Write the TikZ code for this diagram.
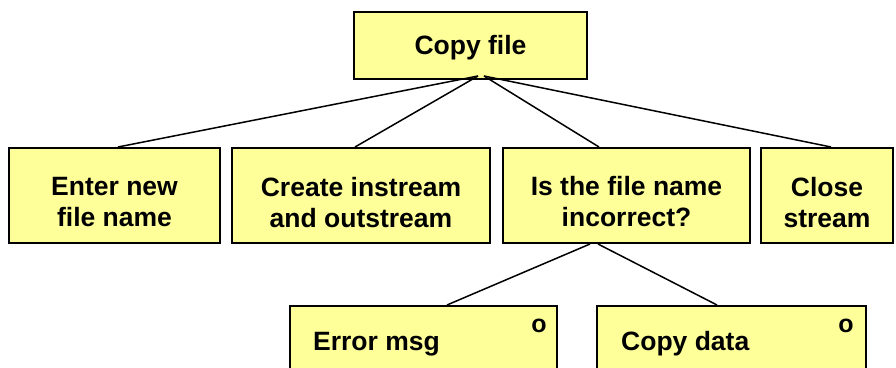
\documentclass[tikz,border=0pt]{standalone}
\usepackage{fontspec}
\setmainfont{Liberation Sans}
\definecolor{boxfill}{HTML}{FFFF99}
\begin{document}
\begin{tikzpicture}[x=1pt,y=-1pt,
  box/.style={draw=black, line width=2pt, fill=boxfill, inner sep=0pt},
  lbl/.style={font=\bfseries\fontsize{26.5}{31}\selectfont, align=center, inner sep=0pt},
  mark0/.style={font=\bfseries\fontsize{25}{28}\selectfont, inner sep=0pt},
  link/.style={draw=black, line width=1.5pt}]
\useasboundingbox (0,0) rectangle (896,367);
\clip (0,0) rectangle (896,367);
% boxes
\node[box, minimum width=233pt, minimum height=67pt] (copy) at (470.5,45.5) {};
\node[box, minimum width=211pt, minimum height=95pt] (enter) at (114.5,195.5) {};
\node[box, minimum width=258pt, minimum height=95pt] (create) at (361,195.5) {};
\node[box, minimum width=247pt, minimum height=95pt] (isfile) at (626.5,195.5) {};
\node[box, minimum width=132pt, minimum height=95pt] (close) at (827,195.5) {};
\node[box, minimum width=267pt, minimum height=100pt] (error) at (423.5,356) {};
\node[box, minimum width=269pt, minimum height=100pt] (copydata) at (731.5,356) {};
% texts
\node[lbl] (tcopy) at (470.5,47.5) {Copy file};
\node[lbl] (tenter) at (114.5,202.5) {Enter new\\file name};
\node[lbl] (tcreate) at (361,202.5) {Create instream\\and outstream};
\node[lbl] (tisfile) at (626.5,202) {Is the file name\\incorrect?};
\node[lbl] (tclose) at (827,202.5) {Close\\stream};
\node[lbl, anchor=base west] (terror) at (313,350) {Error msg};
\node[lbl, anchor=base west] (tcopydata) at (621,350) {Copy data};
\node[mark0, anchor=base] (oerror) at (539,332) {o};
\node[mark0, anchor=base] (ocopydata) at (846,332) {o};
% connector end points
\coordinate (cl) at ([xshift=7.5pt,yshift=4pt]copy.south);
\coordinate (cr) at ([xshift=13.5pt,yshift=4pt]copy.south);
\coordinate (il) at ([xshift=-36.5pt]isfile.south);
\coordinate (ir) at ([xshift=-28.5pt]isfile.south);
% connectors
\draw[link] (cl) -- ([xshift=3.5pt]enter.north);
\draw[link] (cl) -- ([xshift=-6pt]create.north);
\draw[link] (cr) -- ([xshift=-27.5pt]isfile.north);
\draw[link] (cr) -- ([xshift=4pt]close.north);
\draw[link] (il) -- ([xshift=23.5pt]error.north);
\draw[link] (ir) -- ([xshift=-14.5pt]copydata.north);
\end{tikzpicture}
\end{document}
